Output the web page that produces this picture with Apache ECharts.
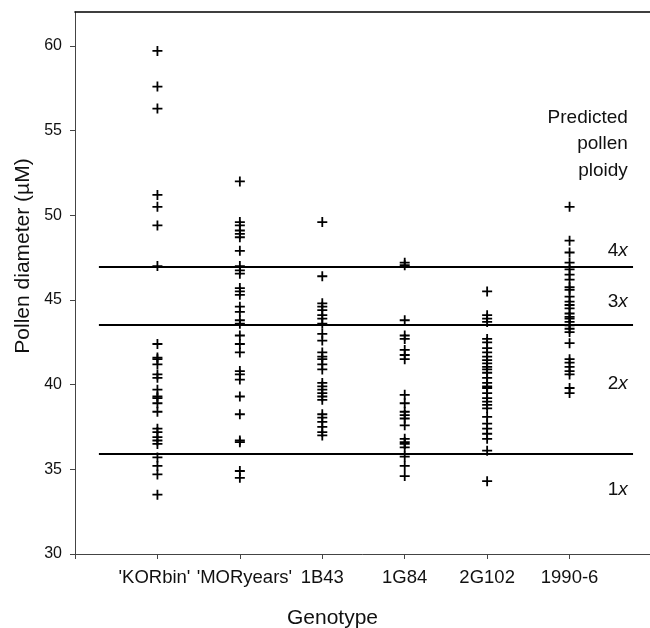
<!DOCTYPE html>
<html>
<head>
<meta charset="utf-8">
<script src="https://cdn.jsdelivr.net/npm/echarts@6/dist/echarts.min.js"></script>
<style>html,body{margin:0;padding:0;background:#fff;}#chart{width:650px;height:628px;}</style>
</head>
<body>
<div id="chart"></div>
<script>
// ---- data ----
const categories = ["'KORbin'", "'MORyears'", "1B43", "1G84", "2G102", "1990-6"];
const korbin   = [59.7, 57.6, 56.3, 51.2, 50.5, 49.4, 47.0, 42.4, 41.6, 41.5, 41.2, 40.6, 40.4, 39.7, 39.3, 39.2, 38.9, 38.4, 37.4, 37.2, 36.9, 36.7, 36.5, 35.7, 35.2, 34.7, 33.5];
const moryears = [52.0, 49.6, 49.4, 49.1, 48.9, 48.7, 47.9, 47.0, 46.75, 46.55, 45.7, 45.5, 45.3, 44.6, 44.3, 43.8, 43.6, 42.9, 42.4, 41.9, 40.8, 40.6, 40.3, 39.3, 38.25, 36.7, 36.6, 34.9, 34.5];
const b43      = [49.6, 46.4, 44.8, 44.6, 44.4, 44.1, 43.9, 43.6, 43.0, 42.6, 41.9, 41.65, 41.5, 41.2, 40.9, 40.1, 39.9, 39.7, 39.5, 39.3, 39.1, 38.25, 38.05, 37.8, 37.5, 37.2, 37.0];
const g84      = [47.2, 47.05, 43.8, 42.9, 42.7, 42.05, 41.75, 41.5, 39.4, 38.9, 38.4, 38.2, 38.0, 37.6, 36.8, 36.6, 36.5, 36.3, 35.75, 35.2, 34.6];
const g102     = [45.5, 44.1, 43.9, 43.7, 42.7, 42.5, 42.15, 41.9, 41.65, 41.45, 41.25, 41.05, 40.9, 40.7, 40.4, 40.1, 39.9, 39.8, 39.5, 39.2, 39.0, 38.8, 38.6, 38.1, 37.7, 37.4, 37.1, 36.8, 36.1, 34.3];
const y1990    = [50.5, 48.5, 47.8, 47.2, 46.8, 46.5, 46.2, 45.75, 45.6, 45.2, 44.9, 44.7, 44.5, 44.2, 44.0, 43.9, 43.7, 43.5, 43.3, 43.1, 42.45, 41.5, 41.3, 41.05, 40.8, 40.6, 39.8, 39.5];
const seriesValues = [korbin, moryears, b43, g84, g102, y1990];
const thresholds = [35.9, 43.55, 46.95];          // 1x/2x, 2x/3x, 3x/4x boundaries
const ploidyLabels = ["1", "2", "3", "4"];          // followed by italic x
const ploidyLabelY = [33.8, 40.05, 44.9, 47.9];
const legendTitle = "Predicted\npollen\nploidy";
const legendTitleY = 54.2;
const yTicks = [30, 35, 40, 45, 50, 55, 60];

// ---- layout constants ----
const lineStart = 0.29, lineEnd = 6.77, labelX = 6.707;
const FONT = "'Liberation Sans', Arial, sans-serif";
const TXT = '#111';
const AX = '#444';
const labelStyleKeys = ['k', 'm', 'c', 'c', 'c', 'c'];

const points = [];
seriesValues.forEach((vals, i) => vals.forEach(v => points.push([i + 1, v])));

const plus = 'path://M-1,-0.18H1V0.18H-1Z M-0.18,-1H0.18V1H-0.18Z';

const chart = echarts.init(document.getElementById('chart'), null, {renderer: 'canvas'});
chart.setOption({
  animation: false,
  backgroundColor: '#fff',
  textStyle: {fontFamily: FONT},
  grid: {left: 75, top: 12, width: 577, height: 542, containLabel: false, outerBoundsMode: 'none'},
  xAxis: [{
    type: 'value', min: 0, max: 7, interval: 1,
    axisLine: {show: true, lineStyle: {color: AX, width: 1}},
    axisTick: {show: true, length: 5, lineStyle: {color: AX, width: 1}},
    axisLabel: {
      formatter: v => categories[v - 1] ? '{' + labelStyleKeys[v - 1] + '|' + categories[v - 1] + '}' : '',
      fontSize: 18.5, color: TXT, margin: 14, fontFamily: FONT, hideOverlap: false,
      rich: {
        k: {fontSize: 18.5, color: TXT, fontFamily: FONT, padding: [0, 6, 0, 0]},
        m: {fontSize: 18.5, color: TXT, fontFamily: FONT, padding: [0, 0, 0, 9]},
        c: {fontSize: 18.5, color: TXT, fontFamily: FONT}
      }
    },
    splitLine: {show: false},
    name: 'Genotype', nameLocation: 'middle', nameGap: 54,
    nameTextStyle: {fontSize: 21, color: TXT, fontFamily: FONT, padding: [0, 62, 0, 0]}
  }, {
    type: 'value', min: 0, max: 7, position: 'top',
    axisLine: {show: true, lineStyle: {color: '#000', width: 1.6}},
    axisTick: {show: false}, axisLabel: {show: false}, splitLine: {show: false}
  }],
  yAxis: {
    type: 'value', min: 30, max: 62, interval: 5,
    axisLine: {show: true, lineStyle: {color: AX, width: 1}},
    axisTick: {show: true, length: 5, customValues: yTicks, lineStyle: {color: AX, width: 1}},
    axisLabel: {customValues: yTicks, fontSize: 16, color: TXT, margin: 13, fontFamily: FONT},
    splitLine: {show: false},
    name: 'Pollen diameter (\u00b5M)', nameLocation: 'middle', nameGap: 40,
    nameTextStyle: {fontSize: 21, color: TXT, fontFamily: FONT, padding: [0, 0, 0, 54]}
  },
  series: [{
    type: 'scatter',
    data: points,
    symbol: plus,
    symbolSize: 10,
    itemStyle: {color: '#000', opacity: 1},
    silent: true,
    z: 3,
    markLine: {
      silent: true, symbol: 'none', animation: false,
      label: {show: false},
      lineStyle: {color: '#000', width: 2, type: 'solid', opacity: 1},
      emphasis: {disabled: true},
      data: thresholds.map(t => [{coord: [lineStart, t]}, {coord: [lineEnd, t]}])
    }
  }, {
    type: 'scatter',
    data: ploidyLabels.map((p, i) => [labelX, ploidyLabelY[i], p]),
    symbolSize: 0,
    itemStyle: {color: TXT, opacity: 1},
    silent: true,
    label: {
      show: true, position: 'left', distance: 0, color: TXT,
      formatter: p => '{a|' + p.data[2] + '}{b|x}',
      rich: {
        a: {fontSize: 19, color: TXT, fontFamily: FONT},
        b: {fontSize: 19, color: TXT, fontFamily: FONT, fontStyle: 'italic'}
      }
    }
  }, {
    type: 'scatter',
    data: [[labelX, legendTitleY]],
    symbolSize: 0,
    itemStyle: {color: TXT, opacity: 1},
    silent: true,
    label: {
      show: true, position: 'left', distance: 0,
      formatter: legendTitle, align: 'right',
      fontSize: 19, lineHeight: 26.5, color: TXT, fontFamily: FONT
    }
  }]
});
</script>
</body>
</html>
